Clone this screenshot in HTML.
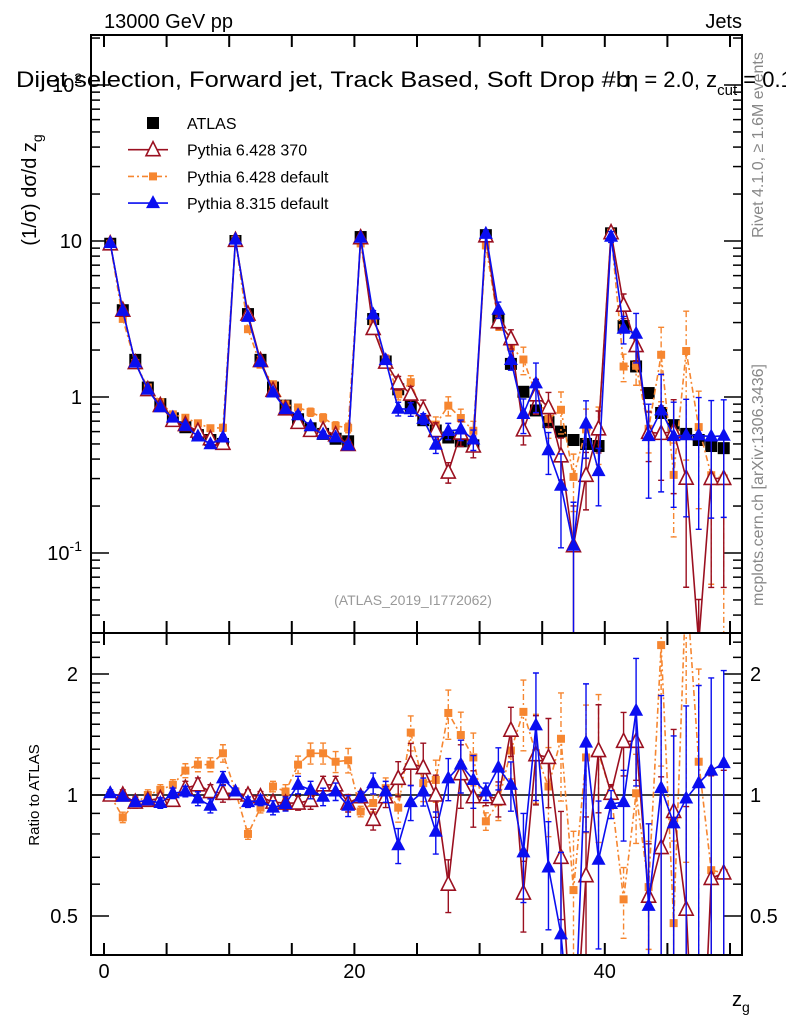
<!DOCTYPE html>
<html><head><meta charset="utf-8"><style>
html,body{margin:0;padding:0;background:#fff;overflow:hidden;width:786px;height:1024px;}
svg{display:block;font-family:"Liberation Sans",sans-serif;}
</style></head><body>
<svg id="chart" width="786" height="1024" viewBox="0 0 786 1024">
<text x="104" y="28" font-size="20">13000 GeV pp</text>
<text x="742" y="28" font-size="20" text-anchor="end">Jets</text>
<text x="16" y="87" font-size="22" textLength="614" lengthAdjust="spacingAndGlyphs">Dijet selection, Forward jet, Track Based, Soft Drop #b</text>
<text x="626" y="87" font-size="22">η = 2.0, z<tspan font-size="15" dy="8">cut</tspan><tspan dy="-8"> = 0.1</tspan></text>
<text transform="translate(36,190) rotate(-90)" font-size="20" text-anchor="middle">(1/σ) dσ/d z<tspan font-size="14" dy="6">g</tspan></text>
<text transform="translate(39,795) rotate(-90)" font-size="15" text-anchor="middle">Ratio to ATLAS</text>
<text transform="translate(763,145) rotate(-90)" font-size="16" fill="#888" text-anchor="middle">Rivet 4.1.0, ≥ 1.6M events</text>
<text transform="translate(763,485) rotate(-90)" font-size="16" fill="#888" text-anchor="middle">mcplots.cern.ch [arXiv:1306.3436]</text>
<text x="413" y="605" font-size="14" fill="#999" text-anchor="middle">(ATLAS_2019_I1772062)</text>
<text x="732" y="1006" font-size="20">z<tspan font-size="14" dy="6">g</tspan></text>
<g id="ticks"></g>
<g id="marks"></g>
<rect x="91" y="35" width="651" height="598" fill="none" stroke="#000" stroke-width="2"/>
<rect x="91" y="633" width="651" height="322" fill="none" stroke="#000" stroke-width="2"/>
<g id="legend"></g>
</svg>
<script>
const bins = [0.5,1.5,2.5,3.5,4.5,5.5,6.5,7.5,8.5,9.5,10.5,11.5,12.5,13.5,14.5,15.5,16.5,17.5,18.5,19.5,20.5,21.5,22.5,23.5,24.5,25.5,26.5,27.5,28.5,29.5,30.5,31.5,32.5,33.5,34.5,35.5,36.5,37.5,38.5,39.5,40.5,41.5,42.5,43.5,44.5,45.5,46.5,47.5,48.5,49.5];
const atlas = [9.6,3.6,1.73,1.15,0.9,0.73,0.64,0.57,0.53,0.5, 10.0,3.4,1.73,1.15,0.88,0.72,0.63,0.58,0.54,0.52, 10.6,3.16,1.69,1.12,0.87,0.71,0.61,0.55,0.52,0.49, 10.9,3.1,1.63,1.08,0.82,0.69,0.6,0.53,0.5,0.485, 11.2,2.85,1.57,1.06,0.79,0.66,0.58,0.53,0.485,0.47];
const ratioPy6_370 = [1.0,1.0,0.96,0.97,0.98,0.97,1.04,1.06,1.02,1.01, 1.01,1.0,0.99,0.96,0.955,0.955,0.97,1.06,1.06,0.955, 0.99,0.87,0.99,1.10,1.20,1.17,1.0,0.60,1.13,0.99, 0.99,0.98,1.45,0.57,1.26,1.24,0.70,0.21,0.63,1.29, 1.01,1.36,1.36,0.56,0.74,0.91,0.52,0.05,0.62,0.64];
const ratioPy6_def = [1.0,0.88,0.955,1.0,1.03,1.06,1.15,1.19,1.19,1.27, 1.02,0.80,0.93,1.05,1.02,1.19,1.27,1.27,1.21,1.22, 0.91,0.955,1.04,0.93,1.43,1.07,1.09,1.60,1.41,1.24, 0.86,0.96,1.29,1.61,1.27,1.05,1.38,0.58,1.24,1.27, 1.01,0.55,1.01,0.59,2.36,0.48,3.4,1.21,0.65,0.64];
const ratioPy8 = [1.01,0.99,0.96,0.97,0.955,1.01,1.02,0.98,0.94,1.10, 1.02,0.96,0.97,0.93,0.95,1.06,1.03,0.99,1.02,0.94, 0.99,1.07,1.02,0.75,0.96,1.02,0.81,1.10,1.19,1.09, 1.02,1.17,1.06,0.72,1.49,0.66,0.45,0.21,1.35,0.69, 0.95,0.96,1.62,0.53,1.04,0.85,0.98,1.07,1.15,1.20];
const errPy6_370 = [.02,.03,.03,.03,.03,.03,.04,.04,.04,.05, .02,.03,.03,.03,.04,.04,.05,.05,.05,.05, .03,.06,.06,.1,.12,.15,.12,.15,.18,.16, .05,.1,.14,.2,.25,.25,.3,.8,.4,.3, .05,.18,.2,.35,.5,.6,.8,.9,.8,.8];
const errPy6_def = [.02,.03,.03,.03,.03,.03,.04,.04,.04,.05, .02,.03,.03,.03,.04,.05,.06,.06,.06,.07, .03,.05,.06,.08,.1,.1,.12,.14,.14,.15, .05,.1,.15,.2,.25,.25,.3,.4,.35,.4, .05,.2,.25,.3,.5,.6,.8,.7,.8,.9];
const errPy8 = [.02,.02,.02,.02,.03,.03,.03,.04,.04,.04, .02,.03,.03,.04,.04,.05,.05,.05,.05,.06, .03,.06,.06,.1,.1,.08,.12,.12,.15,.15, .05,.12,.14,.25,.35,.3,.6,.9,.4,.4, .08,.2,.35,.6,.7,.65,.7,.75,.7,.7];
const xTickLabels = [0,20,40];
const yTickLabels = [["10^-1",0.1],["1",1],["10",10],["10^2",100]];
const rTickLabels = [0.5,1,2];

const NS="http://www.w3.org/2000/svg";
const X=v=>104+12.52*v;
const Y=v=>241-156*Math.log10(v/10);
const R=r=>795-121*Math.log2(r);
const MT=35,MB=633,RT=633,RB=955;
function mk(tag,attrs,parent){const e=document.createElementNS(NS,tag);for(const k in attrs)e.setAttribute(k,attrs[k]);parent.appendChild(e);return e;}
const ticks=document.getElementById('ticks'), marks=document.getElementById('marks'), legend=document.getElementById('legend');

for(let v=0;v<=50;v+=5){
  [[MB,-12],[MT,12],[RB,-12],[RT,12]].forEach(([y0,d])=>{
    const l=mk('line',{x1:X(v),x2:X(v),y1:y0,y2:y0+d,stroke:'#000','stroke-width':2},ticks);
    
    
  });
}
xTickLabels.forEach(v=>{
  const t=mk('text',{x:X(v),y:978,'font-size':20,'text-anchor':'middle'},ticks);
  t.textContent=v;
  
  
});
for(let d=-2;d<=2;d++){
  for(let m=1;m<10;m++){
    const v=m*Math.pow(10,d); const y=Y(v);
    if(y<MT||y>MB) continue;
    const len=m===1?18:9;
    const l1=mk('line',{x1:91,x2:91+len,y1:y,y2:y,stroke:'#000','stroke-width':1.5},ticks);
    
    
    const l2=mk('line',{x1:742,x2:742-len,y1:y,y2:y,stroke:'#000','stroke-width':1.5},ticks);
    
    
  }
}
yTickLabels.forEach(([lab,v])=>{
  const t=mk('text',{x:82,y:Y(v)+7,'font-size':20,'text-anchor':'end'},ticks);
  const p=lab.split('^');
  t.textContent=p[0];
  if(p[1]){const s=mk('tspan',{'font-size':14,dy:-9},t);s.textContent=p[1];}
  
  
});
[0.5,0.6,0.7,0.8,0.9,1,1.1,1.2,1.3,1.4,1.5,1.6,1.7,1.8,1.9,2,2.2,2.4].forEach(r=>{
  const y=R(r); if(y<RT||y>RB) return;
  const len=rTickLabels.includes(r)?18:9;
  const l1=mk('line',{x1:91,x2:91+len,y1:y,y2:y,stroke:'#000','stroke-width':1.5},ticks);
  
  
  const l2=mk('line',{x1:742,x2:742-len,y1:y,y2:y,stroke:'#000','stroke-width':1.5},ticks);
  
  
});
rTickLabels.forEach(r=>{
  const t1=mk('text',{x:78,y:R(r)+7,'font-size':20,'text-anchor':'end'},ticks);
  t1.textContent=r;
  
  
  const t2=mk('text',{x:750,y:R(r)+7,'font-size':20},ticks);
  t2.textContent=r;
  
  
});
const one=mk('line',{x1:91,x2:742,y1:R(1),y2:R(1),stroke:'#000','stroke-width':1.5},ticks);



const defs=mk('defs',{},document.getElementById('chart'));
const c1=mk('clipPath',{id:'cm'},defs); mk('rect',{x:91,y:MT,width:651,height:MB-MT},c1);
const c2=mk('clipPath',{id:'cr'},defs); mk('rect',{x:91,y:RT,width:651,height:RB-RT},c2);
const gm=mk('g',{'clip-path':'url(#cm)'},marks);
const gr=mk('g',{'clip-path':'url(#cr)'},marks);

function clampY(y,top,bot){return Math.max(top-5,Math.min(bot+5,y));}
function marker(g,type,x,y,color,name){
  let e;
  if(type==='sq') e=mk('rect',{x:x-6,y:y-6,width:12,height:12,fill:color},g);
  else if(type==='osq') e=mk('rect',{x:x-4,y:y-4,width:8,height:8,fill:color},g);
  else if(type==='otri') e=mk('polygon',{points:`${x},${y-8} ${x-7},${y+6} ${x+7},${y+6}`,fill:'#fff',stroke:color,'stroke-width':1.6},g);
  else e=mk('polygon',{points:`${x},${y-8} ${x-7},${y+5} ${x+7},${y+5}`,fill:color},g);
  
  
}
function series(ratio,err,color,type,dash,name){
  [[gm,i=>atlas[i]*ratio[i],i=>atlas[i]*ratio[i]*(1+err[i]),i=>Math.max(1e-4,atlas[i]*ratio[i]*(1-err[i])),Y,MT,MB],
   [gr,i=>ratio[i],i=>ratio[i]*(1+err[i]),i=>Math.max(1e-4,ratio[i]-ratio[i]*err[i]),R,RT,RB]].forEach(([g,val,hi,lo,F,top,bot])=>{
    const pts=bins.map((b,i)=>X(b)+','+clampY(F(val(i)),top-200,bot+200)).join(' ');
    const pl=mk('polyline',{points:pts,fill:'none',stroke:color,'stroke-width':1.6,'stroke-dasharray':dash},g);
    
    
    bins.forEach((b,i)=>{
      const x=X(b),y1=clampY(F(hi(i)),top,bot),y2=clampY(F(lo(i)),top,bot);
      const eb=mk('path',{d:`M${x},${y1}V${y2}M${x-3},${y1}H${x+3}M${x-3},${y2}H${x+3}`,stroke:color,'stroke-width':1.4,fill:'none','stroke-dasharray':dash},g);
      
      
      marker(g,type,x,F(val(i)),color,name+'-point');
    });
  });
}
bins.forEach((b,i)=>marker(gm,'sq',X(b),Y(atlas[i]),'#000','atlas-point'));
series(ratioPy6_def,errPy6_def,'#f68630','osq','6,3,2,3','pythia6-default');
series(ratioPy6_370,errPy6_370,'#9b1020','otri','','pythia6-370');
series(ratioPy8,errPy8,'#0a0ef0','tri','','pythia8-default');

const leg=[['ATLAS','#000','sq',''],['Pythia 6.428 370','#9b1020','otri',''],['Pythia 6.428 default','#f68630','osq','6,3,2,3'],['Pythia 8.315 default','#0a0ef0','tri','']];
leg.forEach(([lab,col,type,dash],k)=>{
  const y=123+26.7*k;
  const g=mk('g',{},legend);
  
  
  if(k>0){mk('line',{x1:128,x2:168,y1:y,y2:y,stroke:col,'stroke-width':1.6,'stroke-dasharray':dash},g);}
  marker(g,type,153,y,col,'legend-marker');
  const t=mk('text',{x:187,y:y+6,'font-size':16},g);
  t.textContent=lab;
});
</script>
</body></html>
